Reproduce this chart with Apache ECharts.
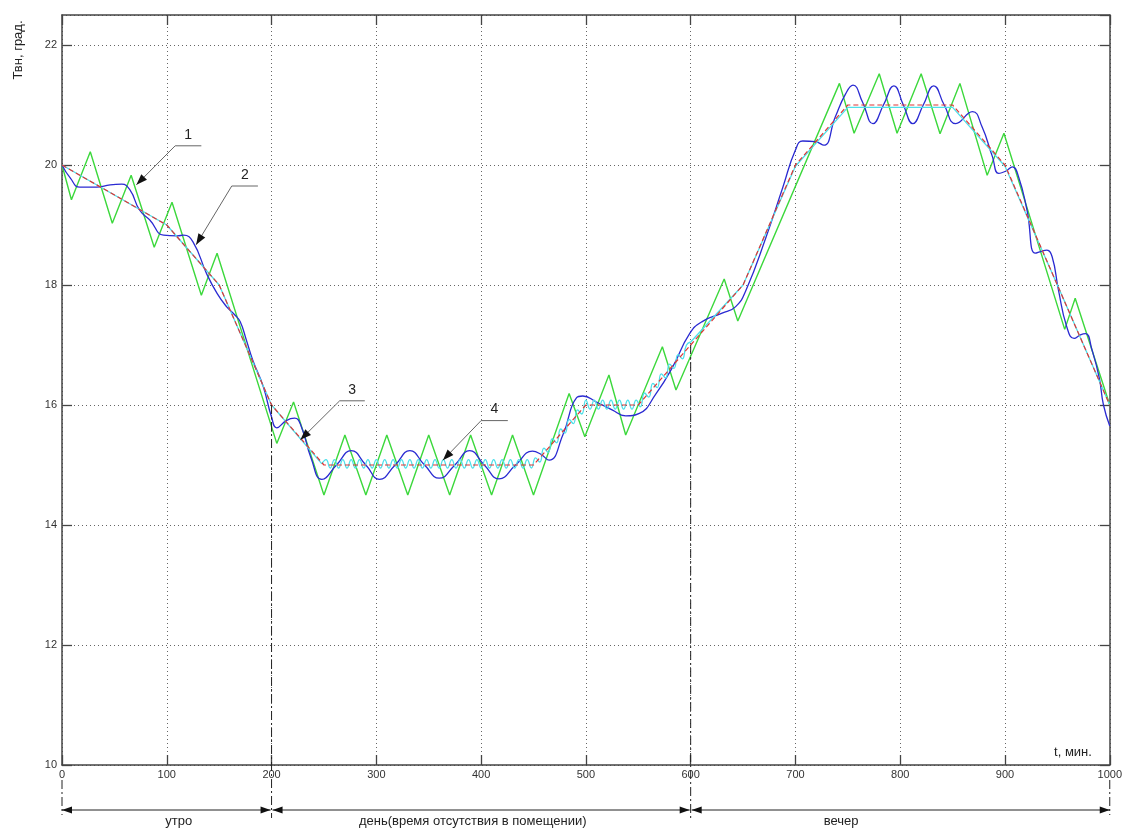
<!DOCTYPE html>
<html><head><meta charset="utf-8">
<script src="https://cdn.jsdelivr.net/npm/echarts@6/dist/echarts.min.js"></script>
<style>html,body{margin:0;padding:0;background:#fff}#c{width:1125px;height:830px}</style>
</head><body><div id="c"></div>
<script>
// ---- data ----
const xTicks = [0,100,200,300,400,500,600,700,800,900,1000];
const yTicks = [10,12,14,16,18,20,22];

// 1: reference (red)
const tRef = [0,100,150,200,250,450,500,550,600,650,700,750,850,900,950,1000];
const vRef = [20,19,18,16,15,15,16,16,17,18,20,21,21,20,18,16];

// green (two-position)
const tGreen = [0,9,27,48,66,88,105,133,148,205,221,250,270,290,310,330,350,370,390,410,430,450,484,499,522,538,573,586,632,645,742,756,780,797,820,838,857,883,899,957,967,1000];
const vGreen = [20,19.42,20.22,19.03,19.83,18.63,19.38,17.83,18.53,15.36,16.05,14.5,15.5,14.5,15.5,14.5,15.5,14.5,15.5,14.5,15.5,14.5,16.19,15.47,16.5,15.5,16.97,16.25,18.1,17.4,21.36,20.53,21.52,20.53,21.52,20.52,21.36,19.83,20.53,17.26,17.78,16.0];

// blue
const tBlue = [0,8,17,33,46,57,65,74,84,97,110,116,125,138,148,157,165,170,176,182,192,200,205,214,222,228,238,248,262,276,290,303,318,332,346,360,375,389,403,417,433,449,457,465,478,491,497,510,525,538,551,567,583,599,611,630,643,653,672,688,700,707,719,727,738,748,755,764,774,784,794,803,812,822,832,842,853,869,878,888,894,901,907,913,921,929,936,940,945,951,959,966,972,977,983,990,994,1000];
const vBlue = [20,19.78,19.63,19.63,19.67,19.68,19.58,19.25,19.08,18.83,18.82,18.83,18.72,18.19,17.86,17.64,17.5,17.39,17.08,16.75,16.31,15.8,15.62,15.74,15.78,15.66,15.1,14.76,15.0,15.24,15.0,14.76,15.0,15.24,15.0,14.78,15.0,15.24,15.0,14.77,15.0,15.23,15.18,15.08,15.5,16.12,16.15,16.05,15.92,15.82,15.86,16.19,16.64,17.19,17.39,17.53,17.64,17.92,18.8,19.63,20.25,20.4,20.39,20.33,20.8,21.19,21.33,21.05,20.69,21.0,21.32,21.0,20.69,21.0,21.32,21.0,20.69,20.89,20.64,20.14,19.86,19.9,19.97,19.8,19.25,18.53,18.57,18.58,18.47,17.92,17.3,17.11,17.17,17.19,16.92,16.45,16.0,15.65];

// cyan: descending part, oscillating middle part, final part
const tCyanA = [0,100,150,200,248];
const vCyanA = [20,19,18,16,15.02];
const tCyanW = [248,
 252,256,260,264,268,272,276,280,284,288,292,296,300,304,308,312,316,320,324,328,332,336,340,344,348,352,356,360,364,368,372,376,380,384,388,392,396,400,404,408,412,416,420,424,428,432,436,440,444,448,
 452,456,460,464,468,472,476,480,484,488,492,496,500,504,508,512,516,520,524,528,532,536,540,544,548,552,556,560,564,568,572,576,580,584,588,592,596,600];
const vCyanW = [15.02,
 15.09,14.95,15.09,14.95,15.09,14.95,15.09,14.95,15.09,14.95,15.09,14.95,15.09,14.95,15.09,14.95,15.09,14.95,15.09,14.95,15.09,14.95,15.09,14.95,15.09,14.95,15.09,14.95,15.09,14.95,15.09,14.95,15.09,14.95,15.09,14.95,15.09,14.95,15.09,14.95,15.09,14.95,15.09,14.95,15.09,14.95,15.09,14.95,15.09,14.95,
 15.12,15.05,15.28,15.21,15.44,15.37,15.60,15.53,15.76,15.69,15.92,15.85,16.08,15.93,16.08,15.93,16.08,15.93,16.08,15.93,16.08,15.93,16.08,15.93,16.08,15.97,16.20,16.13,16.36,16.29,16.52,16.45,16.68,16.61,16.84,16.77,17.0,17.05];
const tCyanB = [600,650,700,750,850,900,950,1000];
const vCyanB = [17.05,18.0,19.98,20.96,20.96,19.98,18.0,16.0];

// annotations (data coords)
const annText = ['1','2','3','4'];
const annTip = [[71,19.67],[128,18.67],[227.5,15.42],[363.5,15.08]];
const annElbow = [[108,20.32],[162,19.65],[265,16.07],[400,15.74]];
const annEndT = [133,187,289,425.5];

// periods below the axis
const periodBounds = [0,200,600,1000];
const periodLabels = ['утро','день(время отсутствия в помещении)','вечер'];
const periodLabelT = [111.5,392,743.6];
const dividerT = [200,600];
const dividerTop = [16,17];

// ---- chart ----
const zip = (a,b) => a.map((t,i)=>[t,b[i]]);
const FONT = 'Liberation Sans, Arial, sans-serif';
const AX = '#444';
const chart = echarts.init(document.getElementById('c'));

const baseX = {type:'value', min:xTicks[0], max:xTicks[xTicks.length-1], interval:xTicks[1]-xTicks[0]};
const baseY = {type:'value', min:yTicks[0], max:22.5, interval:yTicks[1]-yTicks[0]};
const tick = {show:true, inside:true, length:10, lineStyle:{color:AX, width:1.3}};
const aline = {show:true, onZero:false, lineStyle:{color:AX, width:1.5}};
const plain = v => String(v);

const cyanStyle = {color:'#4ee0ea', width:1.3};
chart.setOption({
  animation:false,
  backgroundColor:'#fff',
  grid:{left:62, right:14, top:15, bottom:65, containLabel:false},
  xAxis:[
    Object.assign({}, baseX, {position:'bottom', axisLine:aline, axisTick:tick,
      axisLabel:{color:'#333', fontSize:11, fontFamily:FONT, margin:4, formatter:plain},
      splitLine:{show:true, lineStyle:{type:[1,3], color:'#666', width:1}}}),
    Object.assign({}, baseX, {position:'top', axisLine:aline, axisTick:tick,
      axisLabel:{show:false}, splitLine:{show:false}})
  ],
  yAxis:[
    Object.assign({}, baseY, {position:'left', axisLine:aline, axisTick:tick,
      axisLabel:{color:'#333', fontSize:11, fontFamily:FONT, margin:5, showMaxLabel:false, formatter:plain},
      splitLine:{show:true, lineStyle:{type:[1,3], color:'#666', width:1}}}),
    Object.assign({}, baseY, {position:'right', axisLine:aline, axisTick:tick,
      axisLabel:{show:false}, splitLine:{show:false}})
  ],
  series:[
    {name:'green', type:'line', xAxisIndex:0, yAxisIndex:0, data:zip(tGreen,vGreen), showSymbol:false, symbol:'none',
      lineStyle:{color:'#3cd83c', width:1.4}, z:2},
    {name:'blue', type:'line', xAxisIndex:0, yAxisIndex:0, data:zip(tBlue,vBlue), showSymbol:false, symbol:'none', smooth:0.5,
      lineStyle:{color:'#2a2ad2', width:1.3}, z:3},
    {name:'cyanA', type:'line', xAxisIndex:0, yAxisIndex:0, data:zip(tCyanA,vCyanA), showSymbol:false, symbol:'none',
      lineStyle:cyanStyle, z:4},
    {name:'cyanW', type:'line', xAxisIndex:0, yAxisIndex:0, data:zip(tCyanW,vCyanW), showSymbol:false, symbol:'none', smooth:0.5,
      lineStyle:cyanStyle, z:4},
    {name:'cyanB', type:'line', xAxisIndex:0, yAxisIndex:0, data:zip(tCyanB,vCyanB), showSymbol:false, symbol:'none',
      lineStyle:cyanStyle, z:4},
    {name:'red', type:'line', xAxisIndex:0, yAxisIndex:0, data:zip(tRef,vRef), showSymbol:false, symbol:'none',
      lineStyle:{color:'#e03434', width:1.2, type:[5,3]}, z:5}
  ]
});

const P = (t,v) => chart.convertToPixel({xAxisIndex:0, yAxisIndex:0}, [t,v]);
const els = [];
const DARK = '#222';

// axis titles
els.push({type:'text', x:18, y:50, rotation:Math.PI/2, z:20,
  style:{text:'Твн, град.', font:'13px '+FONT, fill:DARK, align:'center', verticalAlign:'middle'}});
els.push({type:'text', x:1073, y:752, z:20,
  style:{text:'t, мин.', font:'13px '+FONT, fill:DARK, align:'center', verticalAlign:'middle'}});

const dashDot = [9,3,2,3];
// dividers
dividerT.forEach((t,i)=>{
  const p = P(t, dividerTop[i]);
  els.push({type:'line', z:15, shape:{x1:p[0], y1:p[1], x2:p[0], y2:818}, style:{stroke:DARK, lineWidth:1, lineDash:dashDot}});
});
[periodBounds[0], periodBounds[periodBounds.length-1]].forEach(t=>{
  const x = P(t,10)[0];
  els.push({type:'line', z:15, shape:{x1:x, y1:780, x2:x, y2:815}, style:{stroke:DARK, lineWidth:1, lineDash:dashDot}});
});

// period arrows
const AY = 810;
for (let i=0;i<periodLabels.length;i++){
  const xa = P(periodBounds[i],10)[0] + (i>0?1:0);
  const xb = P(periodBounds[i+1],10)[0] - (i<periodLabels.length-1?1:0);
  els.push({type:'line', z:15, shape:{x1:xa, y1:AY, x2:xb, y2:AY}, style:{stroke:DARK, lineWidth:1}});
  els.push({type:'polygon', z:16, shape:{points:[[xa,AY],[xa+10,AY-3.5],[xa+10,AY+3.5]]}, style:{fill:'#111'}});
  els.push({type:'polygon', z:16, shape:{points:[[xb,AY],[xb-10,AY-3.5],[xb-10,AY+3.5]]}, style:{fill:'#111'}});
  const lx = P(periodLabelT[i],10)[0];
  els.push({type:'text', x:lx, y:821, z:16,
    style:{text:periodLabels[i], font:'13px '+FONT, fill:DARK, align:'center', verticalAlign:'middle'}});
}

// numbered callouts
annText.forEach((txt,i)=>{
  const tip = P(annTip[i][0], annTip[i][1]);
  const elb = P(annElbow[i][0], annElbow[i][1]);
  const endX = P(annEndT[i], annElbow[i][1])[0];
  els.push({type:'polyline', z:18, shape:{points:[tip, elb, [endX, elb[1]]]}, style:{stroke:'#666', lineWidth:1, fill:null}});
  let dx = tip[0]-elb[0], dy = tip[1]-elb[1];
  const L = Math.hypot(dx,dy); dx/=L; dy/=L;
  const bx = tip[0]-dx*11, by = tip[1]-dy*11;
  const px = -dy*4, py = dx*4;
  els.push({type:'polygon', z:19, shape:{points:[tip,[bx+px,by+py],[bx-px,by-py]]}, style:{fill:'#111'}});
  els.push({type:'text', x:(elb[0]+endX)/2, y:elb[1]-11, z:19,
    style:{text:txt, font:'14px '+FONT, fill:DARK, align:'center', verticalAlign:'middle'}});
});

chart.setOption({graphic:{elements:els}});
</script>
</body></html>
